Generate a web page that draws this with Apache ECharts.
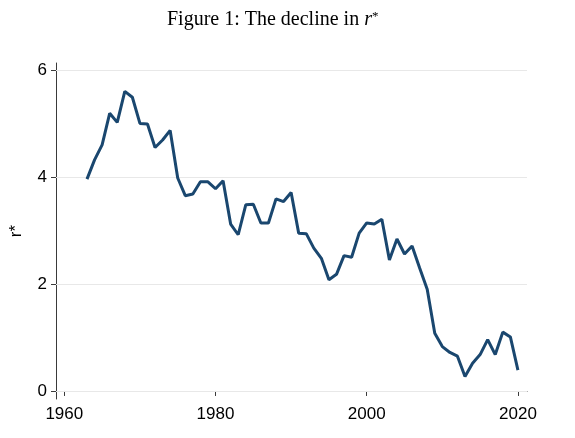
<!DOCTYPE html>
<html>
<head>
<meta charset="utf-8">
<script src="https://cdn.jsdelivr.net/npm/echarts@6/dist/echarts.min.js"></script>
<style>html,body{margin:0;padding:0;background:#fff}#c{width:575px;height:438px}</style>
</head>
<body>
<div id="c"></div>
<script>
var years = [1963,1964,1965,1966,1967,1968,1969,1970,1971,1972,1973,1974,1975,1976,1977,1978,1979,1980,1981,1982,1983,1984,1985,1986,1987,1988,1989,1990,1991,1992,1993,1994,1995,1996,1997,1998,1999,2000,2001,2002,2003,2004,2005,2006,2007,2008,2009,2010,2011,2012,2013,2014,2015,2016,2017,2018,2019,2020];
var rstar = [3.96,4.32,4.60,5.19,5.02,5.60,5.49,5.00,4.99,4.55,4.69,4.87,3.98,3.65,3.68,3.91,3.91,3.78,3.93,3.12,2.92,3.48,3.49,3.14,3.14,3.59,3.54,3.71,2.95,2.94,2.67,2.48,2.08,2.18,2.53,2.50,2.95,3.14,3.12,3.21,2.45,2.84,2.56,2.71,2.30,1.90,1.08,0.83,0.72,0.65,0.27,0.52,0.68,0.96,0.68,1.10,1.01,0.39];
var xTicks = [1960,1980,2000,2020];
var yTicks = [0,2,4,6];

var pts = years.map(function(y,i){return [y, rstar[i]];});
var chart = echarts.init(document.getElementById('c'), null, {renderer:'canvas'});
var axisColor = '#3a3a3a';
function plain(v){ return String(v); }
chart.setOption({
  animation: false,
  title: {
    text: '{a|Figure 1: The decline in }{i|r}{s|*}',
    left: 162, top: 5,
    textStyle: {
      fontWeight: 'normal',
      rich: {
        a: {fontFamily: 'Liberation Serif', fontWeight: 'normal', fontSize: 20, color: '#000'},
        i: {fontFamily: 'Liberation Serif', fontWeight: 'normal', fontStyle: 'italic', fontSize: 20, color: '#000'},
        s: {fontFamily: 'Liberation Serif', fontWeight: 'normal', fontSize: 13, color: '#000', verticalAlign: 'top'}
      }
    }
  },
  grid: {left: 55, right: 48, top: 63, bottom: 39, containLabel: false},
  xAxis: {
    type: 'value', min: 1958.9, max: 2021.2,
    axisLine: {show: true, lineStyle: {color: axisColor, width: 1}},
    axisTick: {show: true, inside: false, length: 5, customValues: xTicks, lineStyle: {color: axisColor, width: 1}},
    axisLabel: {customValues: xTicks, formatter: plain, margin: 7, fontFamily: 'Liberation Sans', fontSize: 17, color: '#000'},
    splitLine: {show: false}
  },
  yAxis: {
    type: 'value', min: -0.15, max: 6.13,
    name: 'r*', nameLocation: 'middle', nameRotate: 90, nameGap: 31,
    nameTextStyle: {fontFamily: 'Liberation Sans', fontSize: 17, color: '#000'},
    axisLine: {show: true, lineStyle: {color: axisColor, width: 1}},
    axisTick: {show: true, inside: false, length: 5, customValues: yTicks, lineStyle: {color: axisColor, width: 1}},
    axisLabel: {customValues: yTicks, formatter: plain, margin: 9, fontFamily: 'Liberation Sans', fontSize: 17, color: '#000'},
    splitLine: {show: false}
  },
  series: [
    {
      type: 'line', data: pts, showSymbol: false, silent: true, z: 1,
      lineStyle: {opacity: 0},
      markLine: {
        silent: true, symbol: 'none', label: {show: false}, z: 1,
        lineStyle: {color: '#e8e8e8', type: 'solid', width: 1},
        data: yTicks.map(function(v){return {yAxis: v};})
      }
    },
    {
      type: 'line', data: pts, showSymbol: false, z: 4,
      lineStyle: {color: '#1a476f', width: 3},
      itemStyle: {color: '#1a476f'}
    }
  ]
});
</script>
</body>
</html>
